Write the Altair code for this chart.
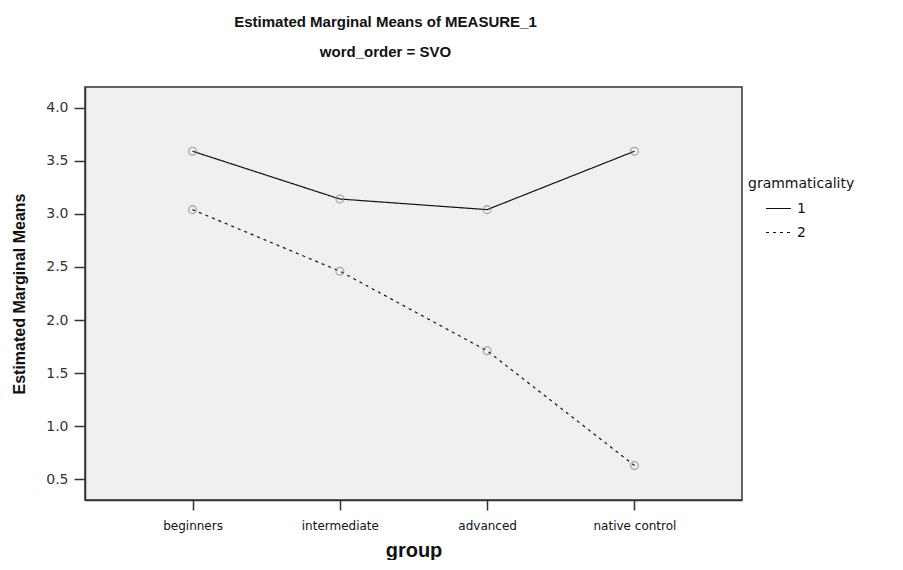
import altair as alt
import pandas as pd

groups = ["beginners", "intermediate", "advanced", "native control"]
gram1 = [3.59, 3.14, 3.04, 3.59]
gram2 = [3.04, 2.46, 1.71, 0.63]
y_ticks = [0.5, 1.0, 1.5, 2.0, 2.5, 3.0, 3.5, 4.0]

rows = []
for g, v in zip(groups, gram1):
    rows.append({"group": g, "mean": v, "grammaticality": "1"})
for g, v in zip(groups, gram2):
    rows.append({"group": g, "mean": v, "grammaticality": "2"})
df = pd.DataFrame(rows)

x_enc = alt.X(
    "group:N",
    sort=groups,
    scale=alt.Scale(type="point", padding=0.73),
    axis=alt.Axis(
        title="group",
        titleFont="Liberation Sans",
        titleFontSize=20,
        titleFontWeight="bold",
        titleColor="#111",
        titlePadding=9,
        labelFont="DejaVu Sans",
        labelFontSize=12,
        labelColor="#111",
        labelAngle=0,
        labelPadding=10,
        tickSize=10,
        tickColor="#333",
        tickWidth=1.5,
        domainColor="#333",
        domainWidth=1.5,
        grid=False,
    ),
)
y_enc = alt.Y(
    "mean:Q",
    scale=alt.Scale(domain=[0.305, 4.195], nice=False, zero=False),
    axis=alt.Axis(
        title="Estimated Marginal Means",
        titleFont="Liberation Sans",
        titleFontSize=16,
        titleFontWeight="bold",
        titleColor="#111",
        titlePadding=18,
        values=y_ticks,
        format=".1f",
        labelFont="DejaVu Sans",
        labelFontSize=14,
        labelColor="#333",
        labelPadding=6,
        tickSize=11,
        tickColor="#333",
        tickWidth=1.5,
        domainColor="#333",
        domainWidth=1.5,
        grid=False,
    ),
)

base = alt.Chart(df).encode(x=x_enc, y=y_enc)

lines = base.mark_line(color="#111", strokeWidth=1.2).encode(
    strokeDash=alt.StrokeDash(
        "grammaticality:N",
        scale=alt.Scale(domain=["1", "2"], range=[[1, 0], [3, 4]]),
        legend=alt.Legend(
            title="grammaticality",
            orient="none",
            legendX=663,
            legendY=90,
            titleFont="DejaVu Sans",
            titleFontSize=14,
            titleFontWeight="normal",
            titleColor="#111",
            titlePadding=4,
            labelFont="DejaVu Sans",
            labelFontSize=14,
            labelColor="#111",
            labelOffset=5,
            symbolType="stroke",
            symbolSize=625,
            symbolStrokeWidth=1.2,
            symbolStrokeColor="#111",
            symbolOffset=17,
            rowPadding=3,
        ),
    ),
    detail="grammaticality:N",
)

points = base.mark_point(
    shape="circle", size=60, color="#888", filled=False, strokeWidth=1.3
)

chart = (
    alt.layer(lines, points)
    .properties(
        width=657,
        height=413,
        background="white",
        title=alt.TitleParams(
            text="Estimated Marginal Means of MEASURE_1",
            subtitle="word_order = SVO",
            font="Liberation Sans",
            fontSize=15,
            fontWeight="bold",
            color="#111",
            subtitleFont="Liberation Sans",
            subtitleFontSize=15,
            subtitleFontWeight="bold",
            subtitleColor="#111",
            subtitlePadding=15,
            anchor="middle",
            dx=-28,
            offset=27,
        ),
        autosize=alt.AutoSizeParams(type="none"),
        padding={"left": 77, "top": 79, "right": 150, "bottom": 60},
    )
    .configure_view(fill="#f0f0f0", stroke="#333", strokeWidth=1.5)
)

chart.save("out.html", embed_options={"renderer": "svg", "actions": False})
